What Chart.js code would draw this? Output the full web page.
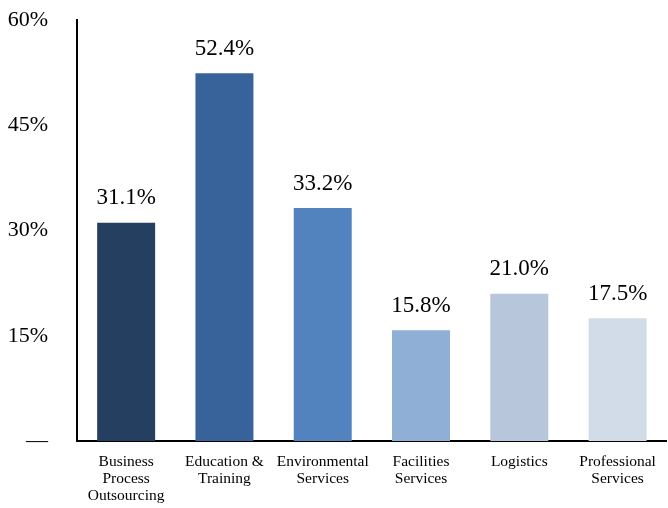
<!DOCTYPE html>
<html>
<head>
<meta charset="utf-8">
<script src="https://cdn.jsdelivr.net/npm/chart.js@4"></script>
<style>
html,body{margin:0;padding:0;background:#fff;}
#wrap{width:668px;height:508px;}
</style>
</head>
<body>
<div id="wrap"><canvas id="c"></canvas></div>
<script>
const categories = [["Business","Process","Outsourcing"],["Education &","Training"],["Environmental","Services"],["Facilities","Services"],["Logistics"],["Professional","Services"]];
const values = [31.1, 52.4, 33.2, 15.8, 21.0, 17.5];
const barColors = ["#253F60","#37629A","#5283BF","#8FAFD7","#B7C6DA","#D2DCE8"];
const yTicks = [0, 15, 30, 45, 60];

const labelPlugin = {
  id: 'valLabels',
  afterDatasetsDraw(chart) {
    const ctx = chart.ctx;
    const meta = chart.getDatasetMeta(0);
    ctx.save();
    ctx.font = '23px "Liberation Serif", "Times New Roman", serif';
    ctx.fillStyle = '#000';
    ctx.textAlign = 'center';
    ctx.textBaseline = 'bottom';
    meta.data.forEach((bar, i) => {
      ctx.fillText(values[i].toFixed(1) + '%', bar.x, bar.y - 13);
    });
    ctx.restore();
  }
};

new Chart(document.getElementById('c'), {
  type: 'bar',
  data: {
    labels: categories,
    datasets: [{
      data: values,
      backgroundColor: barColors,
      categoryPercentage: 1,
      barPercentage: 0.59
    }]
  },
  options: {
    responsive: true,
    maintainAspectRatio: false,
    animation: false,
    devicePixelRatio: 1,
    layout: { padding: { top: 20, right: 1, left: 0, bottom: 0 } },
    plugins: { legend: { display: false }, tooltip: { enabled: false } },
    scales: {
      x: {
        grid: { display: false, drawTicks: false },
        border: { display: true, color: '#000', width: 2 },
        ticks: {
          color: '#000',
          font: { family: '"Liberation Serif", "Times New Roman", serif', size: 15.5, lineHeight: 1.12 },
          padding: 12,
          maxRotation: 0,
          autoSkip: false
        },
        afterFit(scale) { scale.height = 67; }
      },
      y: {
        min: 0, max: 60,
        afterBuildTicks(scale) { scale.ticks = yTicks.map(v => ({ value: v })); },
        grid: { display: false, drawTicks: false },
        border: { display: true, color: '#000', width: 2 },
        ticks: {
          color: '#000',
          font: { family: '"Liberation Serif", "Times New Roman", serif', size: 22 },
          padding: 29,
          callback: v => v === 0 ? '\u2014' : v + '%'
        },
        afterFit(scale) { scale.width = 77; scale.paddingTop = 0; }
      }
    }
  },
  plugins: [labelPlugin]
});
</script>
</body>
</html>
